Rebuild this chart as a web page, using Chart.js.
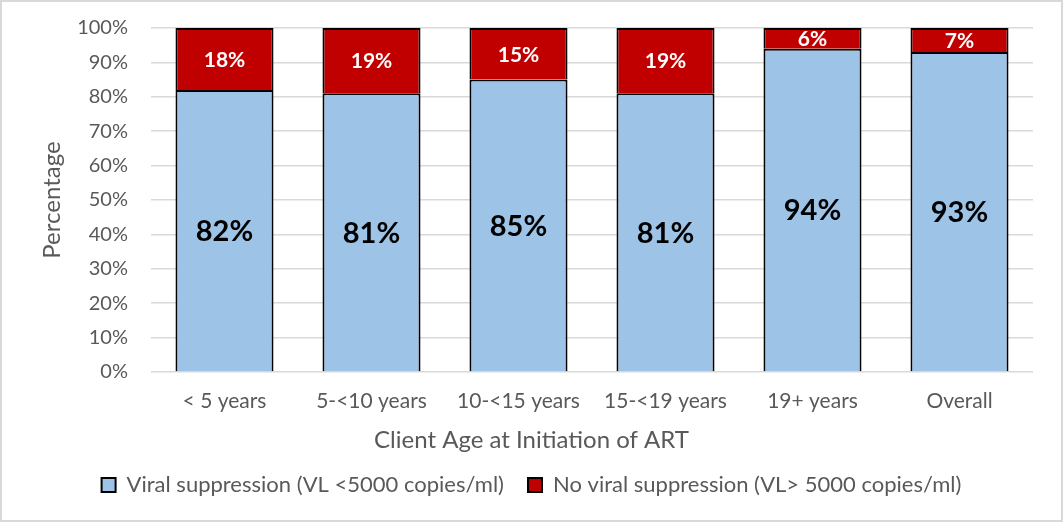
<!DOCTYPE html>
<html>
<head>
<meta charset="utf-8">
<script src="https://cdn.jsdelivr.net/npm/chart.js@4"></script>
<style>
  body { margin: 0; background: #fff; }
  #wrap { width: 1063px; height: 522px; }
</style>
</head>
<body>
<div id="wrap"><canvas id="myChart" width="1063" height="522"></canvas></div>
<script>
// categories and values
const categories = ['< 5 years', '5-<10 years', '10-<15 years', '15-<19 years', '19+ years', 'Overall'];
const suppressed = [82, 81, 85, 81, 94, 93];
const notSuppressed = [18, 19, 15, 19, 6, 7];
const yTicks = [0, 10, 20, 30, 40, 50, 60, 70, 80, 90, 100];

const FONT = 'Lato, "Open Sans", sans-serif';
const GREY = '#595959';

// white page with light grey frame
const frame = {
    id: 'frame',
    beforeDraw(chart) {
        const c = chart.ctx;
        c.save();
        c.fillStyle = '#fff';
        c.fillRect(0, 0, chart.width, chart.height);
        c.strokeStyle = '#d9d9d9';
        c.lineWidth = 2;
        c.strokeRect(1, 1, chart.width - 2, chart.height - 2);
        c.restore();
    }
};

// value labels in the middle of each segment
const segLabels = {
    id: 'segLabels',
    afterDatasetsDraw(chart) {
        const c = chart.ctx;
        c.save();
        c.textAlign = 'center';
        c.textBaseline = 'middle';
        chart.data.datasets.forEach((ds, i) => {
            const meta = chart.getDatasetMeta(i);
            meta.data.forEach((bar, j) => {
                const mid = (bar.y + bar.base) / 2;
                if (i === 0) {
                    c.fillStyle = '#000';
                    c.font = 'bold 29px ' + FONT;
                } else {
                    c.fillStyle = '#fff';
                    c.font = 'bold 21px ' + FONT;
                }
                c.fillText(ds.data[j] + '%', bar.x, mid + 1);
            });
        });
        c.restore();
    }
};

const ctx = document.getElementById('myChart').getContext('2d');
const myChart = new Chart(ctx, {
    type: 'bar',
    data: {
        labels: categories,
        datasets: [{
            label: 'Viral suppression (VL <5000 copies/ml)',
            data: suppressed,
            backgroundColor: '#9DC3E6',
            borderColor: '#000',
            borderWidth: 2
        }, {
            label: 'No viral suppression (VL> 5000 copies/ml)',
            data: notSuppressed,
            backgroundColor: '#C00000',
            borderColor: '#000',
            borderWidth: 2
        }]
    },
    options: {
        responsive: false,
        animation: false,
        layout: { padding: { left: 30, right: 30, top: 28, bottom: 16 } },
        datasets: { bar: { categoryPercentage: 1, barPercentage: 0.667 } },
        scales: {
            x: {
                stacked: true,
                grid: { display: false, drawTicks: false },
                border: { display: false },
                ticks: { color: GREY, font: { family: FONT, size: 21, lineHeight: 0.8 }, padding: 21 }
            },
            y: {
                stacked: true,
                min: 0,
                max: 100,
                afterBuildTicks(scale) { scale.ticks = yTicks.map(v => ({ value: v })); },
                afterFit(scale) {
                    scale.width = 121;
                    scale.paddingTop = 0;
                    scale.paddingBottom = 0;
                },
                grid: { color: '#d9d9d9', lineWidth: 1.5, drawTicks: false },
                border: { display: false },
                ticks: {
                    color: GREY,
                    font: { family: FONT, size: 20 },
                    padding: 23,
                    callback: v => v + '%'
                },
                title: {
                    display: true,
                    text: 'Percentage',
                    color: GREY,
                    font: { family: FONT, size: 24 },
                    padding: { top: 8, bottom: 0 }
                }
            }
        },
        plugins: {
            title: {
                display: true,
                position: 'bottom',
                weight: 500,
                text: 'Client Age at Initiation of ART',
                color: GREY,
                font: { family: FONT, size: 24, weight: 'normal', lineHeight: 0.8 },
                padding: { top: 0, bottom: 0 }
            },
            legend: {
                position: 'bottom',
                labels: {
                    color: GREY,
                    font: { family: FONT, size: 22 },
                    boxWidth: 14,
                    boxHeight: 14,
                    padding: 24
                }
            },
            tooltip: { enabled: false }
        }
    },
    plugins: [frame, segLabels]
});
</script>
</body>
</html>
